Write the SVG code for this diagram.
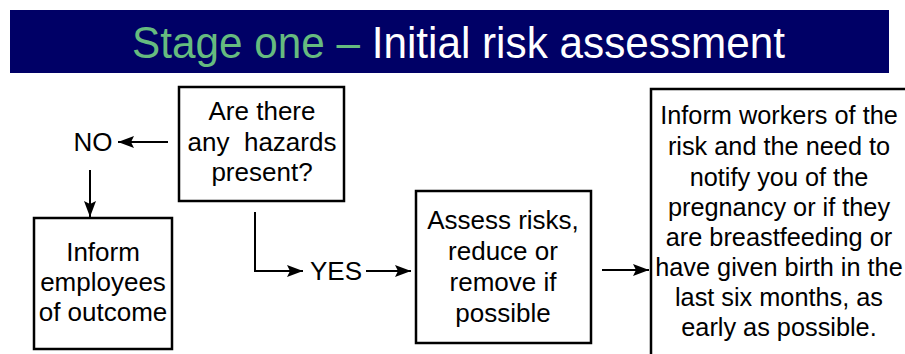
<svg xmlns="http://www.w3.org/2000/svg" width="905" height="354" viewBox="0 0 905 354">
<style>
text{font-family:"Liberation Sans",Arial,sans-serif;fill:#000;text-anchor:middle;dominant-baseline:central}
.t{font-size:26px}
.w{font-size:25.3px}
.box{fill:#fff;stroke:#000;stroke-width:2.5}
.c{fill:none;stroke:#000;stroke-width:2}
.title{font-size:44px;dominant-baseline:auto;text-anchor:start}
</style>
<defs>
<marker id="ah" viewBox="0 0 16 12" refX="16" refY="6" markerWidth="16" markerHeight="12" markerUnits="userSpaceOnUse" orient="auto">
<path d="M0,0 L16,6 L0,12 L3,6 Z" fill="#000"/>
</marker>
</defs>
<g id="header">
<rect x="10" y="10" width="879" height="63" fill="#000066"/>
<text class="title" x="132" y="58" textLength="653" lengthAdjust="spacingAndGlyphs"><tspan fill="#66bb7f">Stage one – </tspan><tspan fill="#ffffff">Initial risk assessment</tspan></text>
</g>
<g id="question">
<rect class="box" x="179" y="87" width="165" height="114"/>
<text class="t" x="262" y="111">Are there</text>
<text class="t" x="262" y="142" xml:space="preserve">any  hazards</text>
<text class="t" x="262" y="172">present?</text>
</g>
<g id="no">
<text class="t" x="93" y="142">NO</text>
</g>
<g id="inform-employees">
<rect class="box" x="34" y="218" width="138" height="131"/>
<text class="t" x="103" y="252">Inform</text>
<text class="t" x="103" y="282">employees</text>
<text class="t" x="103" y="312">of outcome</text>
</g>
<g id="yes">
<text class="t" x="336" y="271">YES</text>
</g>
<g id="assess">
<rect class="box" x="416" y="191" width="175" height="152"/>
<text class="t" x="503" y="220">Assess risks,</text>
<text class="t" x="503" y="251">reduce or</text>
<text class="t" x="503" y="282">remove if</text>
<text class="t" x="503" y="313">possible</text>
</g>
<g id="inform-workers">
<rect class="box" x="651" y="89" width="270" height="280"/>
<text class="w" x="779" y="115">Inform workers of the</text>
<text class="w" x="779" y="146">risk and the need to</text>
<text class="w" x="779" y="177">notify you of the</text>
<text class="w" x="779" y="207">pregnancy or if they</text>
<text class="w" x="779" y="237">are breastfeeding or</text>
<text class="w" x="779" y="267">have given birth in the</text>
<text class="w" x="779" y="297">last six months, as</text>
<text class="w" x="779" y="327">early as possible.</text>
</g>
<g id="connectors">
<path class="c" d="M168,142 H118" marker-end="url(#ah)"/>
<path class="c" d="M90,170 V217" marker-end="url(#ah)"/>
<path class="c" d="M255,212 V271 H303" marker-end="url(#ah)"/>
<path class="c" d="M366,271 H411" marker-end="url(#ah)"/>
<path class="c" d="M602,270 H649" marker-end="url(#ah)"/>
</g>
</svg>
